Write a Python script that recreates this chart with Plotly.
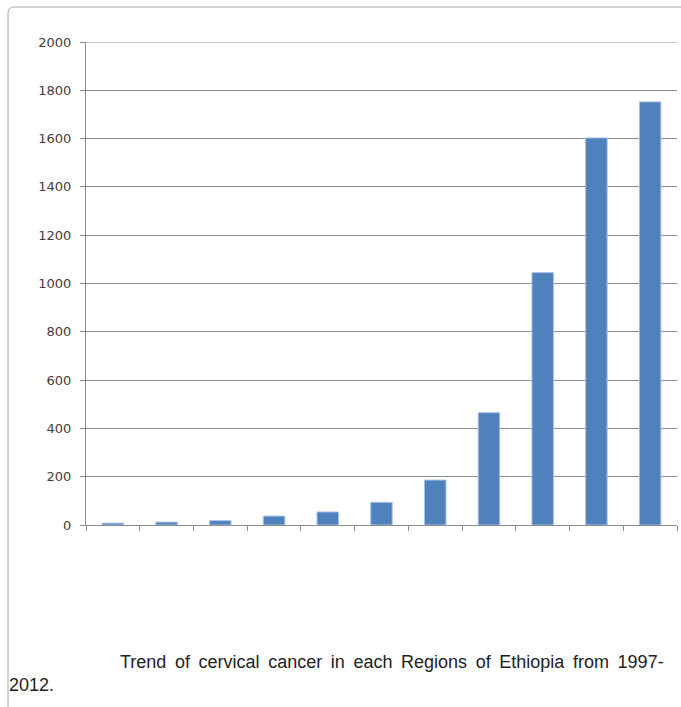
import plotly.graph_objects as go

categories = ["1", "2", "3", "4", "5", "6", "7", "8", "9", "10", "11"]
values = [8, 12, 18, 37, 54, 94, 186, 465, 1045, 1603, 1752]
y_ticks = [0, 200, 400, 600, 800, 1000, 1200, 1400, 1600, 1800, 2000]
caption_line1 = "Trend of cervical cancer in each Regions of Ethiopia from 1997-"
caption_line2 = "2012."

W, H = 681, 707
L, R, T, B = 86, 4, 42, 182
pw, ph = W - L - R, H - T - B

def px(x):
    return (x - L) / pw

def py(y):
    return (H - B - y) / ph

fig = go.Figure(go.Bar(
    x=categories, y=values,
    marker=dict(color="#4F81BD", line=dict(color="#A9C1E2", width=1)),
    width=0.4,
))

r = 6
x0, y0 = px(8), py(7)
x1, y1 = px(W + 5), py(H + 5)
path = (f"M {x0},{y1} L {x0},{py(7 + r)} Q {x0},{y0} {px(8 + r)},{y0} L {x1},{y0}")

justified = caption_line1.replace(" ", " \u2009")

fig.update_layout(
    width=W, height=H,
    margin=dict(l=L, r=R, t=T, b=B),
    paper_bgcolor="white", plot_bgcolor="white",
    showlegend=False,
    font=dict(family="DejaVu Sans", size=13, color="#404040"),
    xaxis=dict(
        type="category", showticklabels=False, showgrid=False,
        showline=True, linecolor="#8c8c8c", linewidth=1,
        ticks="outside", ticklen=5, tickcolor="#8c8c8c", tickson="boundaries",
        range=[-0.5, 10.5], fixedrange=True,
    ),
    yaxis=dict(
        range=[0, 2000], tickvals=y_ticks, ticktext=[str(v) for v in y_ticks],
        showgrid=True, gridcolor="#8c8c8c", gridwidth=1,
        showline=True, linecolor="#8c8c8c", linewidth=1,
        ticks="outside", ticklen=5, tickcolor="#8c8c8c", ticklabelstandoff=6,
        zeroline=False, tickfont=dict(family="DejaVu Sans", size=13, color="#404040"),
    ),
    shapes=[
        dict(type="path", path=path, xref="paper", yref="paper",
             line=dict(color="#a6a6a6", width=1)),
        dict(type="line", xref="paper", yref="y", x0=0, x1=1,
             y0=y_ticks[-1], y1=y_ticks[-1], line=dict(color="#8c8c8c", width=1)),
    ],
    annotations=[
        dict(text=justified, x=px(118), y=py(662), xref="paper", yref="paper",
             xanchor="left", yanchor="middle", showarrow=False,
             font=dict(family="Liberation Sans", size=18, color="#222222")),
        dict(text=caption_line2, x=px(7), y=py(685), xref="paper", yref="paper",
             xanchor="left", yanchor="middle", showarrow=False,
             font=dict(family="Liberation Sans", size=18, color="#222222")),
    ],
)

fig.write_html("out.html")
